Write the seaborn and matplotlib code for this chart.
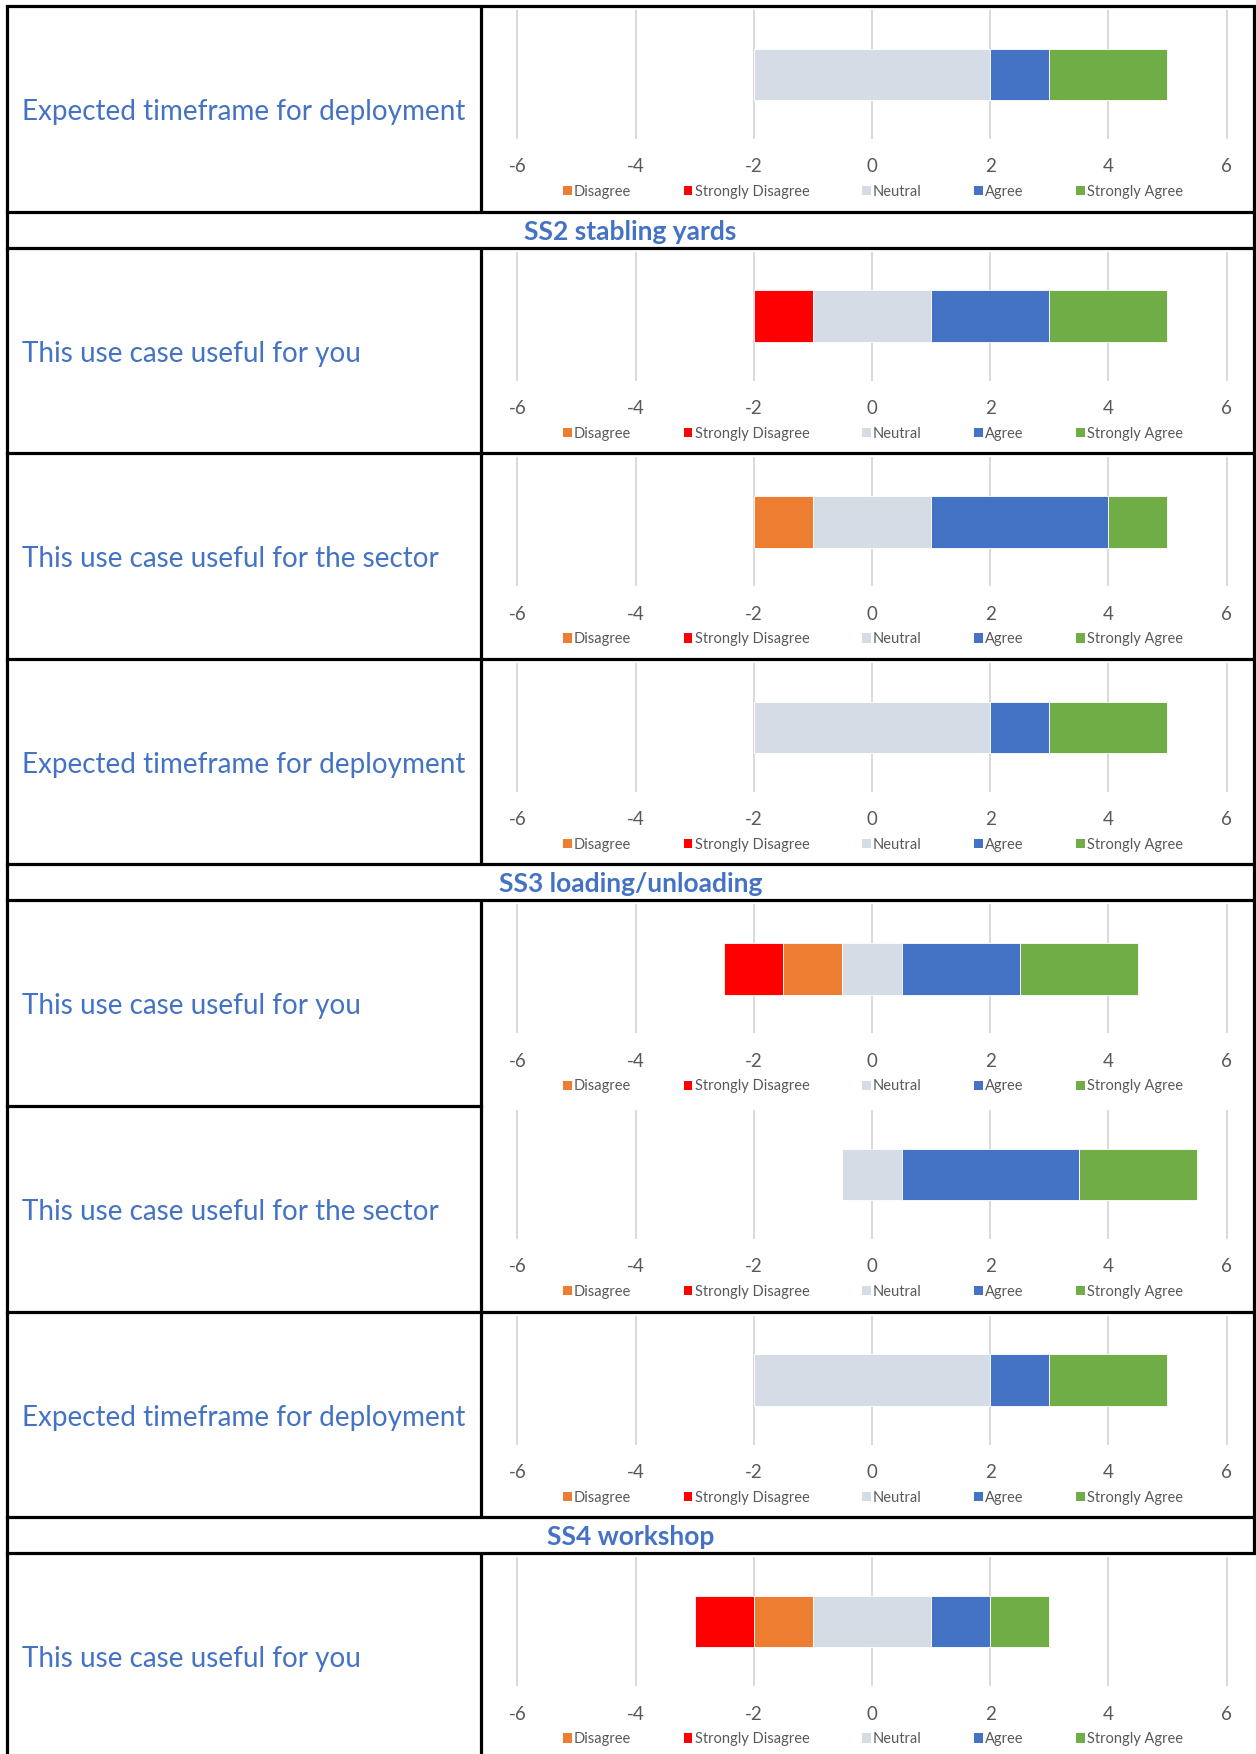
import numpy as np
import pandas as pd
import matplotlib
matplotlib.use("Agg")
import matplotlib.pyplot as plt
from matplotlib.patches import Patch
import seaborn as sns

sns.set_theme(style="white")
plt.rcParams['font.family'] = ['Lato', 'DejaVu Sans']
plt.rcParams['axes.unicode_minus'] = False

# --- data (one entry per chart row, top to bottom) ---
row_labels = [
    'Expected timeframe for deployment',
    'This use case useful for you',
    'This use case useful for the sector',
    'Expected timeframe for deployment',
    'This use case useful for you',
    'This use case useful for the sector',
    'Expected timeframe for deployment',
    'This use case useful for you',
]
strongly_disagree = [0, 1, 0, 0, 1, 0, 0, 1]
disagree          = [0, 0, 1, 0, 1, 0, 0, 1]
neutral           = [4, 2, 2, 4, 1, 1, 4, 2]
agree             = [1, 2, 3, 1, 2, 3, 1, 1]
strongly_agree    = [2, 2, 1, 2, 2, 2, 2, 1]

section_titles = ['SS2 stabling yards', 'SS3 loading/unloading', 'SS4 workshop']

stack_order = ['Strongly Disagree', 'Disagree', 'Neutral', 'Agree', 'Strongly Agree']
legend_order = ['Disagree', 'Strongly Disagree', 'Neutral', 'Agree', 'Strongly Agree']
palette = {
    'Disagree': '#ED7D31',
    'Strongly Disagree': '#FF0000',
    'Neutral': '#D6DCE5',
    'Agree': '#4472C4',
    'Strongly Agree': '#70AD47',
}
BLUE = '#4472C4'
GREY = '#595959'

# table layout: chart rows and section header rows
layout = [('row', 0), ('head', 0), ('row', 1), ('row', 2), ('row', 3),
          ('head', 1), ('row', 4), ('row', 5), ('row', 6), ('head', 2), ('row', 7)]
ROW_H, HEAD_H = 205.6, 36.0
W, H = 1256, 1754
X_LEFT, X_DIV, X_RIGHT = 7, 481, 1254

fig = plt.figure(figsize=(W / 100, H / 100), dpi=100)
bg = fig.add_axes([0, 0, 1, 1])
bg.set_xlim(0, W)
bg.set_ylim(H, 0)
bg.axis('off')


def px_axes(x0, y0, x1, y1):
    return fig.add_axes([x0 / W, 1 - y1 / H, (x1 - x0) / W, (y1 - y0) / H])


lw = 2.3
top = 6.0
tops = []
for kind, i in layout:
    h = ROW_H if kind == 'row' else HEAD_H
    tops.append((kind, i, top, h))
    top += h

# table borders and section headers
for kind, i, t, h in tops:
    if kind == 'row' and i == 5:
        # chart area covers the border above this row
        bg.plot([X_LEFT, X_DIV], [t, t], color='black', lw=lw, solid_capstyle='projecting')
    else:
        bg.plot([X_LEFT, X_RIGHT], [t, t], color='black', lw=lw, solid_capstyle='projecting')
    if kind == 'row':
        bg.plot([X_DIV, X_DIV], [t, min(t + h, H)], color='black', lw=lw)
        if t + h < H:
            bg.plot([X_RIGHT, X_RIGHT], [t, t + h], color='black', lw=lw)
    else:
        bg.plot([X_RIGHT, X_RIGHT], [t, t + h], color='black', lw=lw)
        bg.text((X_LEFT + X_RIGHT) / 2, t + 28, section_titles[i], ha='center',
                va='baseline', fontsize=19, fontweight='bold', color=BLUE)
bg.plot([X_LEFT, X_LEFT], [6, H], color='black', lw=lw)

# chart rows
for kind, i, t, h in tops:
    if kind != 'row':
        continue
    bg.text(22, t + 114, row_labels[i], ha='left', va='baseline',
            fontsize=20.1, color=BLUE)

    counts = [strongly_disagree[i], disagree[i], neutral[i], agree[i], strongly_agree[i]]
    df = pd.DataFrame({'response': stack_order, 'count': counts})
    offset = -(counts[0] + counts[1] + counts[2] / 2)
    df['start'] = offset + df['count'].cumsum() - df['count']

    ax = px_axes(518 - 3.5, t + 4, 1226 + 3.5, t + 133)
    for _, r in df.iterrows():
        if r['count'] == 0:
            continue
        sns.barplot(x=[r['count']], y=[''], left=r['start'], orient='y', width=0.4,
                    color=palette[r['response']], saturation=1, ax=ax,
                    edgecolor='white', linewidth=0.6)
    ax.set_xlim(-6.05, 6.05)
    ax.set_xticks(np.arange(-6, 7, 2))
    ax.grid(axis='x', color='#D9D9D9', linewidth=1.4)
    ax.grid(axis='y', visible=False)
    ax.set_axisbelow(True)
    ax.set_yticks([])
    ax.set_xlabel('')
    ax.set_ylabel('')
    ax.tick_params(axis='x', length=0, pad=14, labelsize=13.5, labelcolor=GREY)
    sns.despine(ax=ax, left=True, bottom=True)

    handles = [Patch(facecolor=palette[k], edgecolor='none') for k in legend_order]
    ax.legend(handles, legend_order, loc='center left',
              bbox_to_anchor=(563 / W, 1 - (t + 186) / H), bbox_transform=fig.transFigure,
              ncol=5, frameon=False, fontsize=10.5, handlelength=0.6, handleheight=0.6,
              handletextpad=0.15, columnspacing=3.6, borderaxespad=0, borderpad=0,
              labelcolor=GREY)

fig.savefig('out.png', dpi=100)
